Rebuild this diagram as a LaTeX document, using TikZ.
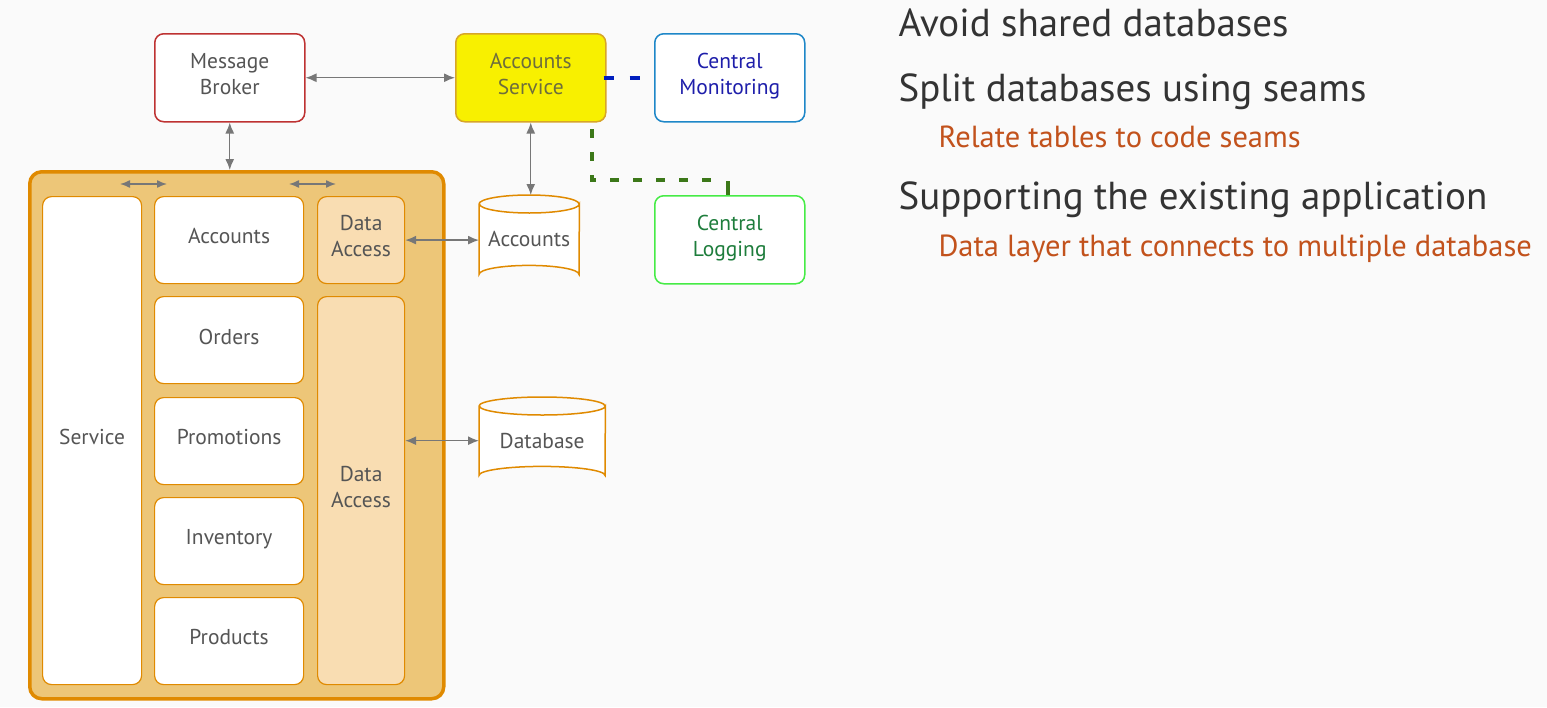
\documentclass[tikz,border=0pt]{standalone}
\usepackage{fontspec}
\setmainfont{PT Sans}
\usetikzlibrary{arrows.meta}
\definecolor{bgc}{HTML}{FAFAFA}
\definecolor{txtg}{HTML}{555555}
\definecolor{headc}{HTML}{333333}
\definecolor{subc}{HTML}{C2521C}
\definecolor{orng}{HTML}{E08A00}
\definecolor{gold}{HTML}{EDC678}
\definecolor{peach}{HTML}{F9DDB2}
\definecolor{arrg}{HTML}{777777}
\definecolor{brokerc}{HTML}{BE3232}
\definecolor{yel}{HTML}{F8F000}
\definecolor{yelbd}{HTML}{D7A528}
\definecolor{yeltx}{HTML}{6E6E3C}
\definecolor{monbd}{HTML}{1E87C8}
\definecolor{montx}{HTML}{1E1EAA}
\definecolor{logbd}{HTML}{46EB46}
\definecolor{logtx}{HTML}{1E7D3C}
\definecolor{dashb}{HTML}{001EBE}
\definecolor{dashg}{HTML}{3C7819}
\tikzset{
  box/.style={draw=orng,line width=1.2pt,fill=white,rounded corners=9pt,anchor=north west,
    text=txtg,align=center,text depth=7.5pt,font=\fontsize{21.5}{26}\selectfont},
  dabox/.style={box,fill=peach},
  topbox/.style={box,line width=1.5pt,minimum width=150pt,minimum height=88pt},
  dbnode/.style={anchor=north west,text=txtg,font=\fontsize{21.5}{26}\selectfont},
  link/.style={draw=arrg,line width=1.4pt,{Latex[length=11pt,width=9pt]}-{Latex[length=11pt,width=9pt]}},
  minilink/.style={draw=arrg,line width=1.4pt,{Latex[length=10pt,width=8pt]}-{Latex[length=10pt,width=8pt]}},
  head/.style={anchor=base west,text=headc,font=\fontsize{39}{44}\selectfont},
  sub/.style={anchor=base west,text=subc,font=\fontsize{30.5}{34}\selectfont}
}
\newcommand{\dbcyl}[1]{%
  \draw[orng,line width=1.5pt,fill=white]
    ([yshift=-9pt]#1.north west) -- ([yshift=9pt]#1.south west)
    arc[start angle=180,end angle=360,x radius={0.5*\dbw},y radius=9]
    -- ([yshift=-9pt]#1.north east)
    arc[start angle=0,end angle=180,x radius={0.5*\dbw},y radius=9];
  \draw[orng,line width=1.5pt] ([yshift=-9pt]#1.north west)
    arc[start angle=180,end angle=360,x radius={0.5*\dbw},y radius=9];}
\begin{document}
\begin{tikzpicture}[x=1pt,y=-1pt]
\fill[bgc] (0,0) rectangle (1547,707);
\useasboundingbox (0,0) rectangle (1547,707);
%services
\node (broker) at (154,33) [topbox,draw=brokerc] {Message\\Broker};
\node (accsvc) at (455,33) [topbox,fill=yel,draw=yelbd,text=yeltx] {Accounts\\Service};
\node (monitor) at (654,33) [topbox,draw=monbd,text=montx] {Central\\Monitoring};
\node (logging) at (654,195) [topbox,draw=logbd,text=logtx] {Central\\Logging};

%monolith
\node (mono) at (28,170) [box,fill=gold,line width=3.5pt,rounded corners=12pt,minimum width=414pt,minimum height=527pt] {};
\node (service) at (42,196) [box,minimum width=99pt,minimum height=488pt] {Service};
\node (accmod) at (154,196) [box,minimum width=149pt,minimum height=87pt] {Accounts};
\node (orders) at (154,296) [box,minimum width=149pt,minimum height=87pt] {Orders};
\node (promo) at (154,397) [box,minimum width=149pt,minimum height=87pt] {Promotions};
\node (invent) at (154,497) [box,minimum width=149pt,minimum height=87pt] {Inventory};
\node (prod) at (154,597) [box,minimum width=149pt,minimum height=87pt] {Products};
\node (daone) at (317,196) [dabox,minimum width=87pt,minimum height=87pt] {Data\\Access};
\node (dabig) at (317,296) [dabox,minimum width=87pt,minimum height=388pt] {Data\\Access};
\coordinate (la) at (120,184); \coordinate (lb) at (167,184);
\coordinate (lc) at (289,184); \coordinate (ld) at (336,184);

%databases
\def\dbw{100}
\node (accdb) at (479,195) [dbnode,minimum width=100pt,minimum height=88pt] {};
\dbcyl{accdb}
\node (accdbt) at ([yshift=0pt]accdb.center) [text=txtg,font=\fontsize{21.5}{26}\selectfont] {Accounts};
\def\dbw{126}
\node (db) at (479,397) [dbnode,minimum width=126pt,minimum height=87pt] {};
\dbcyl{db}
\node (dbt) at ([yshift=0pt]db.center) [text=txtg,font=\fontsize{21.5}{26}\selectfont] {Database};

%links
\draw[link] (broker.east) -- (accsvc.west);
\draw[link] (broker.south) -- (mono.north -| broker.south);
\draw[link] (accsvc.south) -- (accdb.north -| accsvc.south);
\draw[link] (daone.east) -- (accdb.west |- daone.east);
\draw[link] (dabig.east |- db.west) -- (db.west);
\draw[minilink] (la) -- (lb);
\draw[minilink] (lc) -- (ld);
\draw[dashb,line width=4.5pt,dash pattern=on 10pt off 16pt] ([xshift=-3pt]accsvc.east) -- (monitor.west);
\coordinate (gstart) at (592,129);
\coordinate (gturn) at (592,180);
\coordinate (gend) at (722,180);
\coordinate (gdrop) at (728,181);
\draw[dashg,line width=4.5pt,dash pattern=on 9pt off 14pt] (gstart) -- (gturn) -- (gend);
\draw[dashg,line width=4.5pt] (gdrop) -- (logging.north -| gdrop);

%bullets
\node (t1) at (895,36) [head] {Avoid shared databases};
\node (t2) at (895,101) [head] {Split databases using seams};
\node (t3) at (935,147) [sub] {Relate tables to code seams};
\node (t4) at (895,209) [head] {Supporting the existing application};
\node (t5) at (935,256) [sub] {Data layer that connects to multiple database};
\end{tikzpicture}
\end{document}
